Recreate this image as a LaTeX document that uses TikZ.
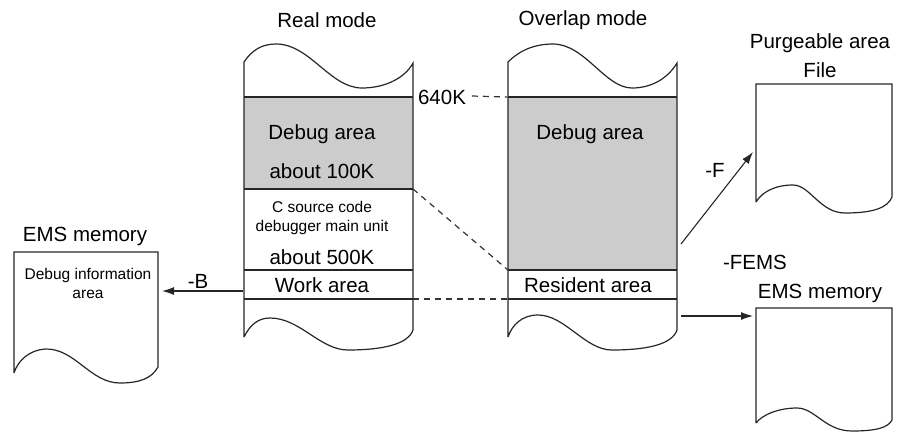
\documentclass[tikz,border=0pt]{standalone}
\usepackage{fontspec}
\setmainfont{Liberation Sans}
\usetikzlibrary{arrows.meta}
\begin{document}
\begin{tikzpicture}[x=1pt,y=-1pt,
  every node/.style={inner sep=0pt,outer sep=0pt},
  lbl/.style={font=\fontsize{20.5}{24}\selectfont},
  small/.style={font=\fontsize{15.5}{19}\selectfont,align=center},
  shape line/.style={line width=1.2pt,black!85},
  area/.style={fill=black!20},
  guide/.style={dashed,line width=1.2pt,dash pattern=on 6pt off 5pt,black!80},
  flow/.style={line width=1.1pt,black!85,-{Latex[length=12pt,width=8pt]}}]
\useasboundingbox (0,0) rectangle (901,432);

% ---- Real mode column ----
\fill[area] (244,97) rectangle (413,189);
\draw[shape line] (244,337) -- (244,62)
  .. controls (252,50) and (262,44) .. (276,44)
  .. controls (310,44) and (330,88) .. (362,88)
  .. controls (385,88) and (405,78) .. (413,63) -- (413,330)
  .. controls (408,345) and (380,350) .. (348,350)
  .. controls (320,350) and (300,318) .. (270,318)
  .. controls (258,318) and (250,325) .. (244,337);
\draw[shape line] (244,97) -- (413,97);
\draw[shape line] (244,189) -- (413,189);
\draw[shape line] (244,270) -- (413,270);
\draw[shape line] (244,299) -- (413,299);

% ---- Overlap mode column ----
\fill[area] (508,97) rectangle (677,270);
\draw[shape line] (508,337) -- (508,62)
  .. controls (520,50) and (535,44) .. (553,44)
  .. controls (585,44) and (605,88) .. (632,88)
  .. controls (652,88) and (668,78) .. (677,63) -- (677,330)
  .. controls (672,345) and (645,350) .. (612,350)
  .. controls (585,350) and (565,315) .. (538,315)
  .. controls (522,315) and (512,325) .. (508,337);
\draw[shape line] (508,97) -- (677,97);
\draw[shape line] (508,270) -- (677,270);
\draw[shape line] (508,299) -- (677,299);

% ---- documents ----
\draw[shape line] (14,373) -- (14,252) -- (158,252) -- (158,367)
  .. controls (152,378) and (140,383) .. (120,383)
  .. controls (90,383) and (75,348) .. (45,349)
  .. controls (30,350) and (18,360) .. (14,373);
\draw[shape line] (756,202) -- (756,84) -- (892,84) -- (892,197)
  .. controls (888,207) and (875,213) .. (845,213)
  .. controls (820,213) and (810,185) .. (793,185)
  .. controls (775,185) and (762,192) .. (756,202);
\draw[shape line] (756,423) -- (756,308) -- (892,308) -- (892,420)
  .. controls (888,428) and (875,431) .. (852,431)
  .. controls (825,431) and (815,408) .. (797,408)
  .. controls (778,408) and (762,415) .. (756,423);

% ---- anchor points on the shapes ----
\coordinate (realB) at (243,291);
\coordinate (emsL) at (162,291);
\coordinate (ovF) at (681,244);
\coordinate (fileIn) at (753,152);
\coordinate (ovE) at (681,316);
\coordinate (emsR) at (753,316);
\coordinate (realDbg) at (413,189);
\coordinate (ovDbg) at (508,270);
\coordinate (realWork) at (413,299);
\coordinate (ovRes) at (508,299);
\coordinate (ovTop) at (507,97);

% ---- labels ----
\node[lbl] (realmode) at (327,20) {Real mode};
\node[lbl] (overlapmode) at (583,20) {Overlap mode};
\node[lbl] (dbg1) at (322,134) {Debug area};
\node[lbl] (dbg1b) at (322,171) {about 100K};
\node[small] (csrc) at (322,218) {C source code\\debugger main unit};
\node[lbl] (k500) at (322,257) {about 500K};
\node[lbl] (work) at (322,285) {Work area};
\node[lbl] (dbg2) at (590,134) {Debug area};
\node[lbl] (resident) at (588,285) {Resident area};
\node[lbl] (k640) at (442,97) {640K};
\node[lbl] (emsleft) at (85,236) {EMS memory};
\node[small] (dbginfo) at (88,283) {Debug information\\area};
\node[lbl] (purge) at (820,43) {Purgeable area};
\node[lbl] (file) at (820,70) {File};
\node[lbl] (emsright) at (820,293) {EMS memory};
\node[lbl] (fems) at (755,262) {-FEMS};
\node[lbl] (optB) at (198,281) {-B};
\node[lbl] (optF) at (715,170) {-F};

% ---- connectors ----
\draw[guide] (k640.east) ++(6,-1) coordinate (k640e) -- (ovTop);
\draw[guide] (realDbg) -- (ovDbg);
\draw[guide] (realWork) -- (ovRes);
\draw[flow] (realB) -- (emsL);
\draw[flow] (ovF) -- (fileIn);
\draw[flow] (ovE) -- (emsR);
\end{tikzpicture}
\end{document}
